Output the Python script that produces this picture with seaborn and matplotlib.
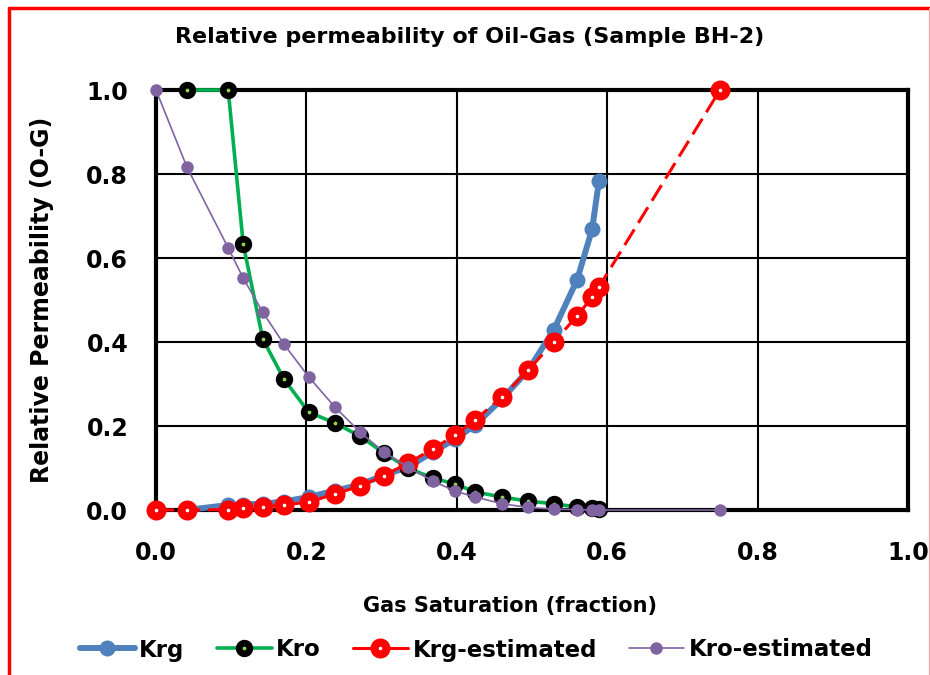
import matplotlib
matplotlib.use("Agg")
import matplotlib.pyplot as plt
import seaborn as sns
from matplotlib.lines import Line2D

# ---- data ----
sg_meas = [0.041, 0.096, 0.116, 0.142, 0.170, 0.203, 0.238, 0.271, 0.303, 0.335,
           0.368, 0.398, 0.424, 0.460, 0.495, 0.529, 0.560, 0.580, 0.589]
krg = [0.0, 0.012, 0.013, 0.015, 0.020, 0.031, 0.046, 0.060, 0.083, 0.102,
       0.138, 0.169, 0.202, 0.264, 0.333, 0.429, 0.548, 0.669, 0.783]
kro = [1.0, 1.0, 0.633, 0.407, 0.312, 0.233, 0.207, 0.176, 0.136, 0.100,
       0.076, 0.062, 0.043, 0.031, 0.021, 0.015, 0.007, 0.004, 0.002]

sg_est = [0.0, 0.041, 0.096, 0.116, 0.142, 0.170, 0.203, 0.238, 0.271, 0.303, 0.335,
          0.368, 0.398, 0.424, 0.460, 0.495, 0.529, 0.560, 0.580, 0.589, 0.75]
krg_est = [0.0, 0.0, 0.001, 0.005, 0.007, 0.012, 0.019, 0.038, 0.057, 0.081, 0.112,
           0.145, 0.179, 0.214, 0.269, 0.333, 0.400, 0.462, 0.507, 0.531, 1.0]
kro_est = [1.0, 0.817, 0.624, 0.552, 0.471, 0.395, 0.317, 0.245, 0.186, 0.138, 0.102,
           0.069, 0.045, 0.031, 0.015, 0.006, 0.002, 0.001, 0.0, 0.0, 0.0]

ticks = [0.0, 0.2, 0.4, 0.6, 0.8, 1.0]
tick_labels = ["0.0", "0.2", "0.4", "0.6", "0.8", "1.0"]

sns.set_style("white")
plt.rcParams["font.family"] = ["DejaVu Sans"]
plt.rcParams["font.weight"] = "bold"
plt.rcParams["text.color"] = "black"
plt.rcParams["axes.labelcolor"] = "black"
plt.rcParams["xtick.color"] = "black"
plt.rcParams["ytick.color"] = "black"

KRG = dict(color="#4F81BD", lw=4.3, marker="o", markersize=11.5, markeredgewidth=0)
KRO = dict(color="#00B050", lw=2.6, marker="o", markersize=7.7, markerfacecolor="#92D050",
           markeredgecolor="black", markeredgewidth=4.8)
KRGE = dict(color="#FF0000", lw=2.2, marker="o", markersize=8.6, markerfacecolor="white",
            markeredgecolor="#FF0000", markeredgewidth=5.8)
KROE = dict(color="#8064A2", lw=1.2, marker="o", markersize=9, markeredgewidth=0)

fig = plt.figure(figsize=(9.3, 6.75), dpi=100)
ax = fig.add_axes([156 / 930, 1 - 510 / 675, 752 / 930, 420 / 675])

sns.lineplot(x=sg_meas, y=krg, ax=ax, sort=False, label="Krg", clip_on=False, **KRG)
sns.lineplot(x=sg_meas, y=kro, ax=ax, sort=False, label="Kro", clip_on=False, **KRO)
sns.lineplot(x=sg_est, y=krg_est, ax=ax, sort=False, label="Krg-estimated",
             clip_on=False, **KRGE)
sns.lineplot(x=sg_est, y=kro_est, ax=ax, sort=False, label="Kro-estimated",
             clip_on=False, **KROE)

lines = ax.get_lines()
lines[2].set_dashes([6, 2.5])

ax.set_xlim(0, 1.0)
ax.set_ylim(0, 1.0)
ax.set_xticks(ticks)
ax.set_xticklabels(tick_labels)
ax.set_yticks(ticks)
ax.set_yticklabels(tick_labels)
ax.tick_params(axis="both", length=0, labelsize=17, labelcolor="black")
ax.tick_params(axis="x", pad=22)
ax.tick_params(axis="y", pad=20)
for lab in ax.get_xticklabels() + ax.get_yticklabels():
    lab.set_fontweight("bold")
ax.grid(True, color="black", lw=1.5)
ax.set_axisbelow(True)
for s in ax.spines.values():
    s.set_visible(True)
    s.set_color("black")
    s.set_linewidth(3)
    s.set_zorder(1.5)

ax.set_xlabel("Gas Saturation (fraction)", fontsize=15, fontweight="bold", color="black")
ax.xaxis.set_label_coords((510 - 156) / 752, (510 - 606) / 420, transform=ax.transAxes)
ax.set_ylabel("Relative Permeability (O-G)", fontsize=17, fontweight="bold", color="black")
ax.yaxis.set_label_coords((42 - 156) / 752, (510 - 300) / 420, transform=ax.transAxes)
ax.yaxis.label.set_va("center")
ax.xaxis.label.set_va("center")
fig.text(470 / 930, 1 - 37 / 675, "Relative permeability of Oil-Gas (Sample BH-2)",
         ha="center", va="center", fontsize=16, fontweight="bold", color="black")

handles = [Line2D([], [], **KRG), Line2D([], [], **KRO),
           Line2D([], [], **KRGE), Line2D([], [], **KROE)]
leg = ax.legend(handles, ["Krg", "Kro", "Krg-estimated", "Kro-estimated"], ncol=4,
                loc="center", bbox_to_anchor=(476 / 930, 1 - 650 / 675),
                bbox_transform=fig.transFigure, frameon=False,
                prop={"size": 16.5, "weight": "bold"}, handlelength=2.4,
                handletextpad=0.2, columnspacing=1.4)
for t in leg.get_texts():
    t.set_color("black")

# figure frame
fig.add_artist(Line2D([9 / 930, 9 / 930], [0, 1 - 8 / 675], color="#FF0000", lw=2.5,
                      transform=fig.transFigure))
fig.add_artist(Line2D([9 / 930, 1], [1 - 8 / 675, 1 - 8 / 675], color="#FF0000", lw=2.5,
                      transform=fig.transFigure))
fig.add_artist(Line2D([929 / 930, 929 / 930], [0, 1 - 8 / 675], color="#F4A0A0", lw=0.8,
                      transform=fig.transFigure))

fig.savefig("out.png", dpi=100)
